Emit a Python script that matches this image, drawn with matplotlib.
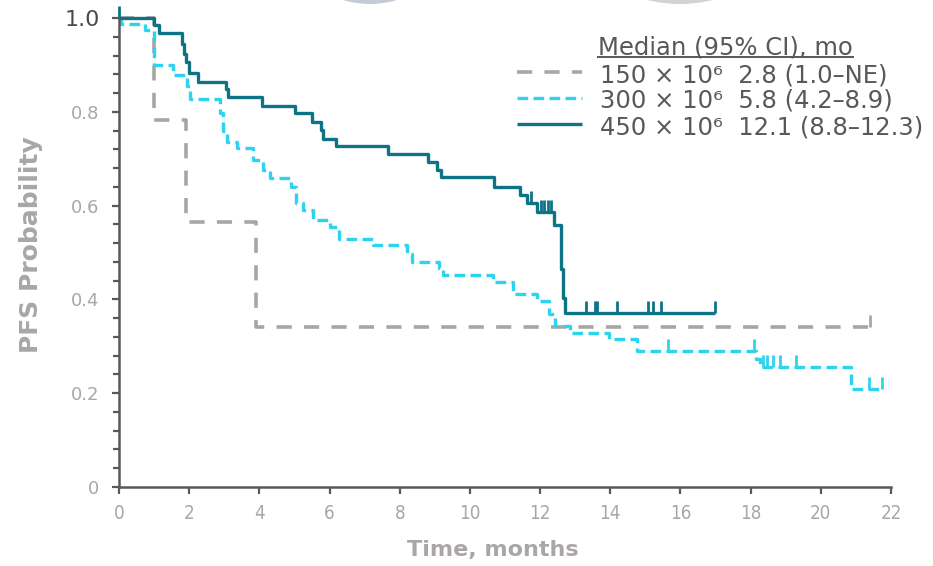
import matplotlib
matplotlib.use("Agg")
import matplotlib.pyplot as plt
from matplotlib.path import Path
from matplotlib.lines import Line2D
from matplotlib.patches import Ellipse
import numpy as np

# ---------------- data ----------------
# 150 x 10^6 (gray dashed)
t150 = [0, 1.0, 1.91, 3.90]
s150 = [1.0, 0.782, 0.566, 0.342]
end150 = 21.4
c150_t = [21.4]
c150_s = [0.342]

# 300 x 10^6 (cyan dashed)
t300 = [0, 0.05, 0.75, 1.0, 1.55, 1.93, 2.02, 2.88, 2.97, 3.07, 3.35, 3.83, 4.11, 4.30,
        4.90, 5.04, 5.25, 5.54, 6.01, 6.28, 7.25, 8.20, 8.34, 9.12, 9.22, 10.66, 11.23,
        11.90, 12.25, 12.42, 12.85, 13.95, 14.75, 18.15, 18.28, 20.87]
s300 = [1.0, 0.987, 0.974, 0.900, 0.878, 0.854, 0.827, 0.797, 0.758, 0.736, 0.722, 0.697,
        0.676, 0.658, 0.640, 0.605, 0.591, 0.569, 0.555, 0.528, 0.515, 0.497, 0.480, 0.466,
        0.453, 0.438, 0.411, 0.397, 0.368, 0.343, 0.328, 0.316, 0.289, 0.272, 0.256, 0.210]
end300 = 21.73
c300_t = [15.65, 18.10, 18.35, 18.48, 18.65, 18.85, 19.30, 21.37, 21.73]
c300_s = [0.289, 0.289, 0.256, 0.256, 0.256, 0.256, 0.256, 0.210, 0.210]

# 450 x 10^6 (teal solid)
t450 = [0, 1.0, 1.15, 1.79, 1.84, 1.90, 1.99, 2.26, 3.04, 3.12, 4.07, 5.02, 5.50, 5.75,
        5.82, 6.18, 7.67, 8.81, 9.05, 9.19, 10.68, 11.42, 11.62, 11.92, 12.40, 12.60,
        12.65, 12.72]
s450 = [1.0, 0.985, 0.967, 0.945, 0.924, 0.907, 0.883, 0.864, 0.848, 0.831, 0.812, 0.797,
        0.778, 0.761, 0.743, 0.727, 0.711, 0.694, 0.676, 0.660, 0.640, 0.623, 0.605, 0.587,
        0.559, 0.464, 0.402, 0.372]
end450 = 16.98
c450_t = [0.0, 11.75, 12.02, 12.12, 12.22, 12.32, 13.32, 13.56, 13.62, 14.20, 15.08,
          15.22, 15.44, 16.98]
c450_s = [1.0, 0.605, 0.587, 0.587, 0.587, 0.587, 0.372, 0.372, 0.372, 0.372, 0.372,
          0.372, 0.372, 0.372]

legend_header = "Median (95% CI), mo"
legend_labels = ["150 × 10⁶  2.8 (1.0–NE)",
                 "300 × 10⁶  5.8 (4.2–8.9)",
                 "450 × 10⁶  12.1 (8.8–12.3)"]

x_ticks = list(range(0, 23, 2))
y_ticks = [0, 0.2, 0.4, 0.6, 0.8, 1.0]
y_ticklabels = ["0", "0.2", "0.4", "0.6", "0.8", "1.0"]

# ---------------- style ----------------
GRAY = "#a9a5a5"
CYAN = "#2ed3ef"
TEAL = "#0f7386"
AXC = "#5a5858"
LBL = "#aaa6a6"
TXT = "#58585a"

plt.rcParams['font.family'] = ['DejaVu Sans']

W, H = 933, 566
fig = plt.figure(figsize=(W / 100, H / 100), dpi=100)
ax = fig.add_axes([119 / W, 1 - 487 / H, (891 - 119) / W, (487 - 18) / H])

up_tick = Path([[0, 0], [0, 1]])


def km(ax, t, s, end, ct, cs, color, **kw):
    tt = list(t) + [end]
    ss = list(s) + [s[-1]]
    ax.step(tt, ss, where="post", color=color, clip_on=False, solid_capstyle="butt",
            dash_capstyle="butt", **kw)
    ax.plot(ct, cs, linestyle="none", marker=up_tick, markersize=17,
            markeredgewidth=2.0, color=color, clip_on=False)


km(ax, t150, s150, end150, c150_t, c150_s, GRAY, lw=2.6, dashes=(4.2, 3.4))
km(ax, t300, s300, end300, c300_t, c300_s, CYAN, lw=2.4, dashes=(3.2, 1.6))
km(ax, t450, s450, end450, c450_t, c450_s, TEAL, lw=2.4)

ax.set_xlim(0, 22)
ax.set_ylim(0, 1.0)
for sp in ["top", "right"]:
    ax.spines[sp].set_visible(False)
for sp in ["left", "bottom"]:
    ax.spines[sp].set_color(AXC)
    ax.spines[sp].set_linewidth(1.8)

ax.set_xticks(x_ticks)
ax.set_yticks(y_ticks)
ax.set_yticklabels(y_ticklabels)
ax.set_yticks(np.arange(0, 1.0001, 0.04), minor=True)
ax.tick_params(axis="both", which="major", direction="out", color=AXC, width=1.6,
               length=5, labelcolor=LBL, labelsize=12, pad=8)
ax.tick_params(axis="x", which="major", labelsize=13.5, pad=7)
ax.tick_params(axis="y", which="major", labelsize=13, pad=9)
ax.tick_params(axis="y", which="minor", direction="out", color=AXC, width=1.6, length=4)
for t in ax.get_xticklabels():
    t.set_fontstretch("condensed")
# "1.0" label darker and larger
lab = ax.get_yticklabels()[-1]
lab.set_color("#4a4a4a")
lab.set_fontsize(16)

ax.set_xlabel("Time, months", color=LBL, fontsize=16, fontweight="bold")
ax.xaxis.set_label_coords((493 - 119) / (891 - 119), -(540 - 487) / (487 - 18))
ax.set_ylabel("PFS Probability", color=LBL, fontsize=18, fontweight="bold")
ax.yaxis.set_label_coords(-(119 - 43) / (891 - 119), (487 - 245) / (487 - 18))

# ---------------- legend (manual) ----------------
FS = 17.5
hx0, hy = 598 / W, 1 - 47 / H
ht = fig.text(hx0, hy, legend_header, color=TXT, fontsize=FS, va="center", ha="left")
fig.canvas.draw()
bb = ht.get_window_extent()
fig.add_artist(Line2D([bb.x0 / W, bb.x1 / W], [1 - 57 / H] * 2, color=TXT, lw=1.4,
                      transform=fig.transFigure))

row_y = [73, 99, 125]
styles = [dict(color=GRAY, lw=2.6, dashes=(4.2, 3.4)),
          dict(color=CYAN, lw=2.4, dashes=(3.2, 1.6)),
          dict(color=TEAL, lw=2.4)]
for y, lab_, st in zip(row_y, legend_labels, styles):
    fig.add_artist(Line2D([517 / W, 582 / W], [1 - (y - 1) / H] * 2,
                          transform=fig.transFigure, solid_capstyle="butt",
                          dash_capstyle="butt", **st))
    fig.text(600 / W, 1 - (y + 2) / H, lab_, color=TXT, fontsize=FS, va="center", ha="left")

# decorative arcs at the top (slide background)
fig.add_artist(Ellipse((370 / W, 1 + 89 / H), 186 / W, 186 / H, transform=fig.transFigure,
                       facecolor="#c4cbd5", edgecolor="none"))
fig.add_artist(Ellipse((680 / W, 1 + 134 / H), 276 / W, 276 / H, transform=fig.transFigure,
                       facecolor="#d3d3d3", edgecolor="none"))

fig.savefig("out.png", dpi=100, facecolor="white")
